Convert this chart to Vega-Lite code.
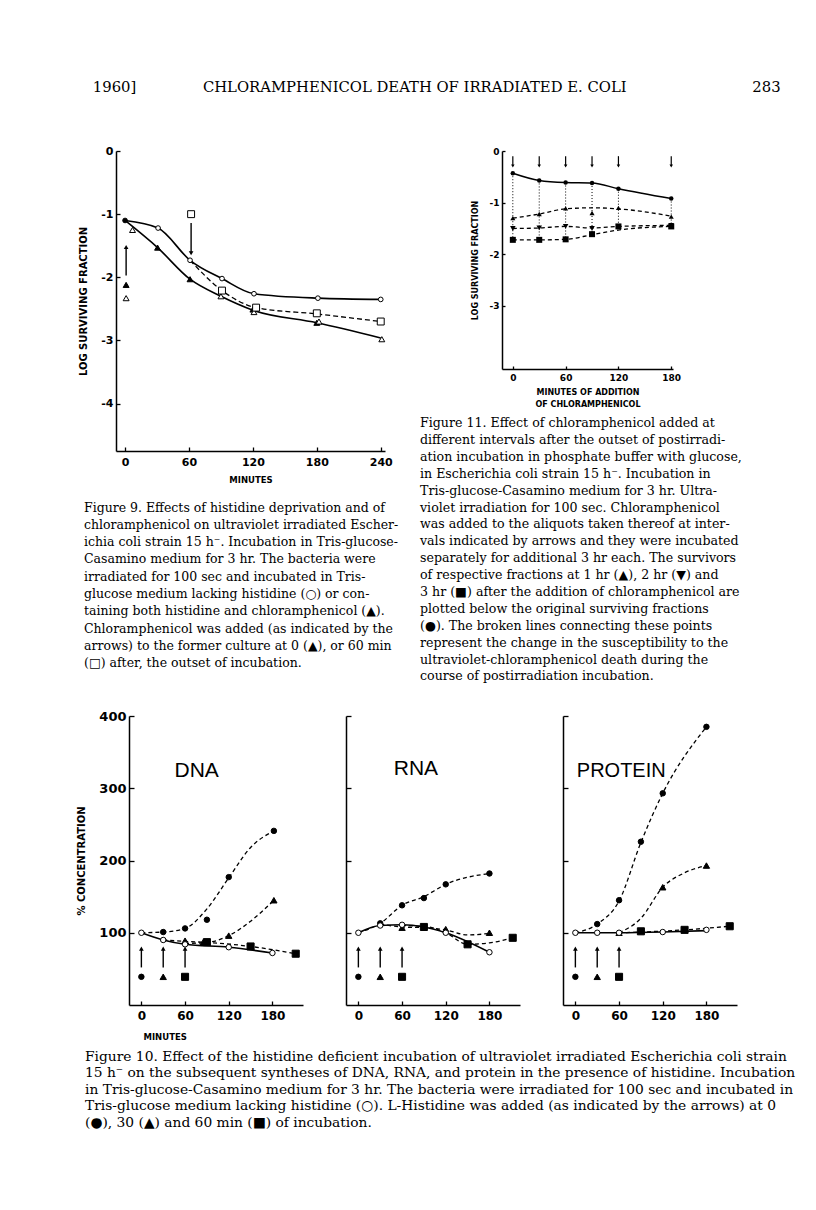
{
"$schema": "https://vega.github.io/schema/vega-lite/v6.json",
"background": "white",
"padding": {"left": 76, "top": 80, "right": 15, "bottom": 15},
"title": {"text": "1960]\u2003\u2003\u2003\u2003\u2002CHLORAMPHENICOL DEATH OF IRRADIATED E. COLI\u2003\u2003\u2003\u2003\u2003\u2003\u2003\u2003\u2002283", "anchor": "start", "font": "DejaVu Serif", "fontSize": 14.8, "fontWeight": "normal", "offset": 50, "dx": 16, "color": "black"},
"config": {
  "view": {"stroke": null},
  "axis": {"grid": false, "domainColor": "black", "domainWidth": 1.5, "tickColor": "black", "tickWidth": 1.3, "labelColor": "black", "titleColor": "black", "labelFont": "DejaVu Sans", "titleFont": "DejaVu Sans", "labelFontWeight": "bold", "titleFontWeight": "bold", "labelFlush": false, "labelOverlap": false},
  "title": {"color": "black"}
},
"datasets": {
  "f9_line": [
    {"s":"c","t":0,"v":-1.1},{"s":"c","t":31,"v":-1.22},{"s":"c","t":61,"v":-1.73},{"s":"c","t":91,"v":-2.02},{"s":"c","t":121,"v":-2.26},{"s":"c","t":181,"v":-2.33},{"s":"c","t":240,"v":-2.35},
    {"s":"t","t":0,"v":-1.1},{"s":"t","t":30.5,"v":-1.53},{"s":"t","t":61,"v":-2.03},{"s":"t","t":90,"v":-2.3},{"s":"t","t":120,"v":-2.52},{"s":"t","t":180,"v":-2.72},{"s":"t","t":240,"v":-2.96},
    {"s":"q","t":61,"v":-1.73},{"s":"q","t":91,"v":-2.21},{"s":"q","t":123,"v":-2.48},{"s":"q","t":180,"v":-2.58},{"s":"q","t":240,"v":-2.7}
  ],
  "f9_pt": [
    {"m":"circle","k":"filled","t":0,"v":-1.1},
    {"m":"triangle-up","k":"filled","t":30.5,"v":-1.53},{"m":"triangle-up","k":"filled","t":61,"v":-2.03},{"m":"triangle-up","k":"filled","t":120,"v":-2.51},{"m":"triangle-up","k":"filled","t":180,"v":-2.72},{"m":"triangle-up","k":"filled","t":1,"v":-2.12},
    {"m":"triangle-up","k":"open","t":7,"v":-1.25},{"m":"triangle-up","k":"open","t":90,"v":-2.3},{"m":"triangle-up","k":"open","t":121,"v":-2.55},{"m":"triangle-up","k":"open","t":182,"v":-2.7},{"m":"triangle-up","k":"open","t":241,"v":-2.98},{"m":"triangle-up","k":"open","t":1,"v":-2.33},
    {"m":"square","k":"open","t":62,"v":-1.0},{"m":"square","k":"open","t":91,"v":-2.21},{"m":"square","k":"open","t":123,"v":-2.48},{"m":"square","k":"open","t":180,"v":-2.57},{"m":"square","k":"open","t":240,"v":-2.7},
    {"m":"circle","k":"open","t":31,"v":-1.22},{"m":"circle","k":"open","t":61,"v":-1.73},{"m":"circle","k":"open","t":91,"v":-2.02},{"m":"circle","k":"open","t":121,"v":-2.26},{"m":"circle","k":"open","t":181,"v":-2.33},{"m":"circle","k":"open","t":240,"v":-2.35}
  ],
  "f9_arrow": [
    {"t":1,"v":-1.52,"v2":-1.97,"dir":"up"},
    {"t":62,"v":-1.62,"v2":-1.14,"dir":"down"}
  ],
  "f11_line": [
    {"s":"c","t":0,"v":-0.43},{"s":"c","t":30,"v":-0.57},{"s":"c","t":60,"v":-0.61},{"s":"c","t":90,"v":-0.62},{"s":"c","t":120,"v":-0.73},{"s":"c","t":180,"v":-0.92},
    {"s":"u","t":0,"v":-1.3},{"s":"u","t":30,"v":-1.22},{"s":"u","t":60,"v":-1.12},{"s":"u","t":90,"v":-1.1},{"s":"u","t":120,"v":-1.12},{"s":"u","t":180,"v":-1.26},
    {"s":"d","t":0,"v":-1.5},{"s":"d","t":30,"v":-1.49},{"s":"d","t":60,"v":-1.46},{"s":"d","t":90,"v":-1.49},{"s":"d","t":120,"v":-1.46},{"s":"d","t":180,"v":-1.44},
    {"s":"q","t":0,"v":-1.72},{"s":"q","t":30,"v":-1.72},{"s":"q","t":60,"v":-1.71},{"s":"q","t":90,"v":-1.62},{"s":"q","t":120,"v":-1.53},{"s":"q","t":180,"v":-1.46}
  ],
  "f11_pt": [
    {"m":"circle","t":0,"v":-0.43},{"m":"circle","t":30,"v":-0.57},{"m":"circle","t":60,"v":-0.61},{"m":"circle","t":90,"v":-0.62},{"m":"circle","t":120,"v":-0.73},{"m":"circle","t":180,"v":-0.92},
    {"m":"triangle-up","t":0,"v":-1.3},{"m":"triangle-up","t":30,"v":-1.22},{"m":"triangle-up","t":60,"v":-1.11},{"m":"triangle-up","t":90,"v":-1.2},{"m":"triangle-up","t":120,"v":-1.1},{"m":"triangle-up","t":180,"v":-1.27},
    {"m":"triangle-down","t":0,"v":-1.5},{"m":"triangle-down","t":30,"v":-1.49},{"m":"triangle-down","t":60,"v":-1.46},{"m":"triangle-down","t":90,"v":-1.5},{"m":"triangle-down","t":120,"v":-1.46},{"m":"triangle-down","t":180,"v":-1.44},
    {"m":"square","t":0,"v":-1.72},{"m":"square","t":30,"v":-1.72},{"m":"square","t":60,"v":-1.71},{"m":"square","t":90,"v":-1.61},{"m":"square","t":120,"v":-1.46},{"m":"square","t":180,"v":-1.46}
  ],
  "f11_drop": [
    {"t":0,"v":-0.43,"v2":-1.72},{"t":30,"v":-0.57,"v2":-1.72},{"t":60,"v":-0.61,"v2":-1.71},{"t":90,"v":-0.62,"v2":-1.61},{"t":120,"v":-0.73,"v2":-1.46},{"t":180,"v":-0.92,"v2":-1.46}
  ],
  "f11_arrow": [
    {"t":0,"v":-0.29,"v2":-0.1},{"t":30,"v":-0.29,"v2":-0.1},{"t":60,"v":-0.29,"v2":-0.1},{"t":90,"v":-0.29,"v2":-0.1},{"t":120,"v":-0.29,"v2":-0.1},{"t":180,"v":-0.29,"v2":-0.1}
  ],
  "f10_line": [
    {"p":"DNA","s":"o","t":0,"v":100},{"p":"DNA","s":"o","t":30,"v":90},{"p":"DNA","s":"o","t":60,"v":84},{"p":"DNA","s":"o","t":120,"v":80},{"p":"DNA","s":"o","t":180,"v":72},
    {"p":"DNA","s":"fc","t":0,"v":100},{"p":"DNA","s":"fc","t":30,"v":101},{"p":"DNA","s":"fc","t":60,"v":106},{"p":"DNA","s":"fc","t":90,"v":133},{"p":"DNA","s":"fc","t":120,"v":176},{"p":"DNA","s":"fc","t":150,"v":218},{"p":"DNA","s":"fc","t":182,"v":241},
    {"p":"DNA","s":"tr","t":30,"v":90},{"p":"DNA","s":"tr","t":60,"v":88},{"p":"DNA","s":"tr","t":90,"v":87},{"p":"DNA","s":"tr","t":120,"v":96},{"p":"DNA","s":"tr","t":150,"v":116},{"p":"DNA","s":"tr","t":182,"v":145},
    {"p":"DNA","s":"sq","t":60,"v":85},{"p":"DNA","s":"sq","t":90,"v":86},{"p":"DNA","s":"sq","t":150,"v":81},{"p":"DNA","s":"sq","t":212,"v":71},
    {"p":"RNA","s":"o","t":0,"v":100},{"p":"RNA","s":"o","t":30,"v":110},{"p":"RNA","s":"o","t":60,"v":111},{"p":"RNA","s":"o","t":90,"v":108},{"p":"RNA","s":"o","t":120,"v":100},{"p":"RNA","s":"o","t":180,"v":73},
    {"p":"RNA","s":"fc","t":0,"v":100},{"p":"RNA","s":"fc","t":30,"v":113},{"p":"RNA","s":"fc","t":60,"v":138},{"p":"RNA","s":"fc","t":90,"v":150},{"p":"RNA","s":"fc","t":120,"v":167},{"p":"RNA","s":"fc","t":180,"v":182},
    {"p":"RNA","s":"tr","t":30,"v":112},{"p":"RNA","s":"tr","t":60,"v":108},{"p":"RNA","s":"tr","t":90,"v":107},{"p":"RNA","s":"tr","t":120,"v":104},{"p":"RNA","s":"tr","t":150,"v":97},{"p":"RNA","s":"tr","t":180,"v":99},
    {"p":"RNA","s":"sq","t":60,"v":110},{"p":"RNA","s":"sq","t":90,"v":109},{"p":"RNA","s":"sq","t":120,"v":100},{"p":"RNA","s":"sq","t":150,"v":84},{"p":"RNA","s":"sq","t":180,"v":86},{"p":"RNA","s":"sq","t":212,"v":93},
    {"p":"PROT","s":"o","t":0,"v":100},{"p":"PROT","s":"o","t":30,"v":100},{"p":"PROT","s":"o","t":60,"v":100},{"p":"PROT","s":"o","t":120,"v":101},{"p":"PROT","s":"o","t":180,"v":103},
    {"p":"PROT","s":"fc","t":0,"v":100},{"p":"PROT","s":"fc","t":30,"v":112},{"p":"PROT","s":"fc","t":60,"v":144},{"p":"PROT","s":"fc","t":90,"v":225},{"p":"PROT","s":"fc","t":120,"v":293},{"p":"PROT","s":"fc","t":180,"v":385},
    {"p":"PROT","s":"tr","t":60,"v":100},{"p":"PROT","s":"tr","t":90,"v":120},{"p":"PROT","s":"tr","t":120,"v":163},{"p":"PROT","s":"tr","t":150,"v":183},{"p":"PROT","s":"tr","t":180,"v":193},
    {"p":"PROT","s":"sq","t":60,"v":100},{"p":"PROT","s":"sq","t":90,"v":101},{"p":"PROT","s":"sq","t":150,"v":104},{"p":"PROT","s":"sq","t":212,"v":109}
  ],
  "f10_pt": [
    {"p":"DNA","m":"circle","k":"filled","t":30,"v":101},{"p":"DNA","m":"circle","k":"filled","t":60,"v":106},{"p":"DNA","m":"circle","k":"filled","t":90,"v":118},{"p":"DNA","m":"circle","k":"filled","t":120,"v":177},{"p":"DNA","m":"circle","k":"filled","t":182,"v":241},
    {"p":"DNA","m":"triangle-up","k":"filled","t":60,"v":89},{"p":"DNA","m":"triangle-up","k":"filled","t":85,"v":87},{"p":"DNA","m":"triangle-up","k":"filled","t":120,"v":96},{"p":"DNA","m":"triangle-up","k":"filled","t":182,"v":145},
    {"p":"DNA","m":"square","k":"filled","t":90,"v":87},{"p":"DNA","m":"square","k":"filled","t":150,"v":81},{"p":"DNA","m":"square","k":"filled","t":212,"v":71},
    {"p":"DNA","m":"circle","k":"filled","t":0,"v":39},{"p":"DNA","m":"triangle-up","k":"filled","t":30,"v":39},{"p":"DNA","m":"square","k":"filled","t":60,"v":39},
    {"p":"DNA","m":"circle","k":"open","t":0,"v":100},{"p":"DNA","m":"circle","k":"open","t":30,"v":90},{"p":"DNA","m":"circle","k":"open","t":60,"v":84},{"p":"DNA","m":"circle","k":"open","t":120,"v":80},{"p":"DNA","m":"circle","k":"open","t":180,"v":72},
    {"p":"RNA","m":"circle","k":"filled","t":30,"v":113},{"p":"RNA","m":"circle","k":"filled","t":60,"v":138},{"p":"RNA","m":"circle","k":"filled","t":90,"v":148},{"p":"RNA","m":"circle","k":"filled","t":120,"v":167},{"p":"RNA","m":"circle","k":"filled","t":180,"v":182},
    {"p":"RNA","m":"triangle-up","k":"filled","t":60,"v":107},{"p":"RNA","m":"triangle-up","k":"filled","t":120,"v":105},{"p":"RNA","m":"triangle-up","k":"filled","t":180,"v":100},
    {"p":"RNA","m":"square","k":"filled","t":90,"v":108},{"p":"RNA","m":"square","k":"filled","t":150,"v":84},{"p":"RNA","m":"square","k":"filled","t":212,"v":93},
    {"p":"RNA","m":"circle","k":"filled","t":0,"v":39},{"p":"RNA","m":"triangle-up","k":"filled","t":30,"v":39},{"p":"RNA","m":"square","k":"filled","t":60,"v":39},
    {"p":"RNA","m":"circle","k":"open","t":0,"v":100},{"p":"RNA","m":"circle","k":"open","t":30,"v":110},{"p":"RNA","m":"circle","k":"open","t":60,"v":111},{"p":"RNA","m":"circle","k":"open","t":120,"v":100},{"p":"RNA","m":"circle","k":"open","t":180,"v":73},
    {"p":"PROT","m":"circle","k":"filled","t":30,"v":112},{"p":"PROT","m":"circle","k":"filled","t":60,"v":145},{"p":"PROT","m":"circle","k":"filled","t":90,"v":226},{"p":"PROT","m":"circle","k":"filled","t":120,"v":293},{"p":"PROT","m":"circle","k":"filled","t":180,"v":385},
    {"p":"PROT","m":"triangle-up","k":"filled","t":120,"v":163},{"p":"PROT","m":"triangle-up","k":"filled","t":180,"v":193},
    {"p":"PROT","m":"square","k":"filled","t":90,"v":102},{"p":"PROT","m":"square","k":"filled","t":150,"v":104},{"p":"PROT","m":"square","k":"filled","t":212,"v":109},
    {"p":"PROT","m":"circle","k":"filled","t":0,"v":39},{"p":"PROT","m":"triangle-up","k":"filled","t":30,"v":39},{"p":"PROT","m":"square","k":"filled","t":60,"v":39},
    {"p":"PROT","m":"triangle-up","k":"open","t":60,"v":100},
    {"p":"PROT","m":"circle","k":"open","t":0,"v":100},{"p":"PROT","m":"circle","k":"open","t":30,"v":100},{"p":"PROT","m":"circle","k":"open","t":60,"v":100},{"p":"PROT","m":"circle","k":"open","t":120,"v":101},{"p":"PROT","m":"circle","k":"open","t":180,"v":104}
  ],
  "f10_arrow": [
    {"p":"DNA","t":0,"v":78,"v2":52},{"p":"DNA","t":30,"v":78,"v2":52},{"p":"DNA","t":60,"v":78,"v2":52},
    {"p":"RNA","t":0,"v":78,"v2":52},{"p":"RNA","t":30,"v":78,"v2":52},{"p":"RNA","t":60,"v":78,"v2":52},
    {"p":"PROT","t":0,"v":78,"v2":52},{"p":"PROT","t":30,"v":78,"v2":52},{"p":"PROT","t":60,"v":78,"v2":52}
  ],
  "f10_label": [
    {"p":"DNA","t":76,"v":324,"label":"DNA"},
    {"p":"RNA","t":79,"v":326,"label":"RNA"},
    {"p":"PROT","t":63,"v":324,"label":"PROTEIN"}
  ]
},
"bounds": "flush",
"spacing": 565,
"resolve": {"scale": {"shape": "independent", "size": "independent", "fill": "independent"}},
"vconcat": [
  {
    "bounds": "flush",
    "spacing": 117,
    "resolve": {"scale": {"shape": "independent", "size": "independent", "fill": "independent"}},
    "hconcat": [
      {
        "width": 269, "height": 300,
        "title": {"text": [
          "\u2003\u2002Figure 9. Effects of histidine deprivation and of",
          "chloramphenicol on ultraviolet irradiated Escher-",
          "ichia coli strain 15 h\u207b. Incubation in Tris-glucose-",
          "Casamino medium for 3 hr. The bacteria were",
          "irradiated for 100 sec and incubated in Tris-",
          "glucose medium lacking histidine (\u25cb) or con-",
          "taining both histidine and chloramphenicol (\u25b2).",
          "Chloramphenicol was added (as indicated by the",
          "arrows) to the former culture at 0 (\u25b2), or 60 min",
          "(\u25a1) after, the outset of incubation."],
          "orient": "bottom", "anchor": "start", "frame": "group", "dx": -32, "offset": 18,
          "font": "DejaVu Serif", "fontSize": 12.5, "fontWeight": "normal", "lineHeight": 17.3, "color": "black"},
        "encoding": {
          "x": {"field": "t", "type": "quantitative", "scale": {"domain": [-8.5, 244], "nice": false, "zero": false},
                "axis": {"values": [0, 60, 120, 180, 240], "title": "MINUTES", "labelFontSize": 11, "titleFontSize": 8.5, "tickSize": -4, "labelPadding": 9, "titlePadding": 8}},
          "y": {"field": "v", "type": "quantitative", "scale": {"domain": [-4.75, 0], "nice": false, "zero": false},
                "axis": {"values": [0, -1, -2, -3, -4], "labelExpr": "datum.value == 0 ? '0' : '-' + abs(datum.value)", "title": "LOG SURVIVING FRACTION", "labelFontSize": 11, "titleFontSize": 10, "tickSize": -4, "labelPadding": 7, "titlePadding": 12}}
        },
        "layer": [
          {"data": {"name": "f9_line"}, "transform": [{"filter": "datum.s != 'q'"}],
           "mark": {"type": "line", "interpolate": "monotone", "color": "black", "strokeWidth": 1.6},
           "encoding": {"detail": {"field": "s", "type": "nominal"}}},
          {"data": {"name": "f9_line"}, "transform": [{"filter": "datum.s == 'q'"}],
           "mark": {"type": "line", "interpolate": "monotone", "color": "black", "strokeWidth": 1.3, "strokeDash": [5, 3]},
           "encoding": {"detail": {"field": "s", "type": "nominal"}}},
          {"data": {"name": "f9_arrow"}, "mark": {"type": "rule", "color": "black", "strokeWidth": 1.4},
           "encoding": {"y2": {"field": "v2"}}},
          {"data": {"name": "f9_arrow"}, "transform": [{"filter": "datum.dir == 'up'"}],
           "mark": {"type": "point", "shape": "triangle-up", "filled": true, "color": "black", "size": 22, "opacity": 1}, "encoding": {}},
          {"data": {"name": "f9_arrow"}, "transform": [{"filter": "datum.dir == 'down'"}],
           "mark": {"type": "point", "shape": "triangle-down", "filled": true, "color": "black", "size": 22, "opacity": 1}, "encoding": {}},
          {"data": {"name": "f9_pt"},
           "mark": {"type": "point", "filled": true, "stroke": "black", "strokeWidth": 1, "opacity": 1},
           "encoding": {
             "shape": {"field": "m", "type": "nominal", "scale": {"domain": ["circle", "triangle-up", "square"], "range": ["circle", "triangle-up", "square"]}, "legend": null},
             "size": {"field": "m", "type": "nominal", "scale": {"domain": ["circle", "triangle-up", "square"], "range": [22, 48, 42]}, "legend": null},
             "fill": {"field": "k", "type": "nominal", "scale": {"domain": ["open", "filled"], "range": ["white", "black"]}, "legend": null}
           }}
        ]
      },
      {
        "width": 171, "height": 218,
        "title": {"text": [
          "\u2003Figure 11. Effect of chloramphenicol added at",
          "different intervals after the outset of postirradi-",
          "ation incubation in phosphate buffer with glucose,",
          "in Escherichia coli strain 15 h\u207b. Incubation in",
          "Tris-glucose-Casamino medium for 3 hr. Ultra-",
          "violet irradiation for 100 sec. Chloramphenicol",
          "was added to the aliquots taken thereof at inter-",
          "vals indicated by arrows and they were incubated",
          "separately for additional 3 hr each. The survivors",
          "of respective fractions at 1 hr (\u25b2), 2 hr (\u25bc) and",
          "3 hr (\u25a0) after the addition of chloramphenicol are",
          "plotted below the original surviving fractions",
          "(\u25cf). The broken lines connecting these points",
          "represent the change in the susceptibility to the",
          "ultraviolet-chloramphenicol death during the",
          "course of postirradiation incubation."],
          "orient": "bottom", "anchor": "start", "frame": "group", "dx": -82, "offset": 9,
          "font": "DejaVu Serif", "fontSize": 12.6, "fontWeight": "normal", "lineHeight": 16.9, "color": "black"},
        "encoding": {
          "x": {"field": "t", "type": "quantitative", "scale": {"domain": [-12.3, 182], "nice": false, "zero": false},
                "axis": {"values": [0, 60, 120, 180], "title": ["MINUTES OF ADDITION", "OF CHLORAMPHENICOL"], "labelFontSize": 9, "titleFontSize": 8, "tickSize": -3, "labelPadding": 7, "titlePadding": 6, "titleLineHeight": 12}},
          "y": {"field": "v", "type": "quantitative", "scale": {"domain": [-4.22, 0], "nice": false, "zero": false},
                "axis": {"values": [0, -1, -2, -3], "labelExpr": "datum.value == 0 ? '0' : '-' + abs(datum.value)", "title": "LOG SURVIVING FRACTION", "labelFontSize": 9, "titleFontSize": 8, "tickSize": -3, "labelPadding": 6, "titlePadding": 10}}
        },
        "layer": [
          {"data": {"name": "f11_drop"}, "mark": {"type": "rule", "color": "black", "strokeWidth": 1, "strokeDash": [1, 2]},
           "encoding": {"y2": {"field": "v2"}}},
          {"data": {"name": "f11_line"}, "transform": [{"filter": "datum.s == 'c'"}],
           "mark": {"type": "line", "interpolate": "monotone", "color": "black", "strokeWidth": 1.5},
           "encoding": {"detail": {"field": "s", "type": "nominal"}}},
          {"data": {"name": "f11_line"}, "transform": [{"filter": "datum.s != 'c'"}],
           "mark": {"type": "line", "interpolate": "monotone", "color": "black", "strokeWidth": 1.3, "strokeDash": [4, 3]},
           "encoding": {"detail": {"field": "s", "type": "nominal"}}},
          {"data": {"name": "f11_arrow"}, "mark": {"type": "rule", "color": "black", "strokeWidth": 1.2},
           "encoding": {"y2": {"field": "v2"}}},
          {"data": {"name": "f11_arrow"},
           "mark": {"type": "point", "shape": "triangle-down", "filled": true, "color": "black", "size": 12, "opacity": 1}, "encoding": {}},
          {"data": {"name": "f11_pt"},
           "mark": {"type": "point", "filled": true, "color": "black", "opacity": 1},
           "encoding": {
             "shape": {"field": "m", "type": "nominal", "scale": {"domain": ["circle", "triangle-up", "triangle-down", "square"], "range": ["circle", "triangle-up", "triangle-down", "square"]}, "legend": null},
             "size": {"field": "m", "type": "nominal", "scale": {"domain": ["circle", "triangle-up", "triangle-down", "square"], "range": [20, 36, 36, 28]}, "legend": null}
           }}
        ]
      }
    ]
  },
  {
    "bounds": "flush",
    "spacing": 12,
    "resolve": {"scale": {"shape": "independent", "size": "independent", "fill": "independent"}},
    "hconcat": [
      {"width": 1, "height": 1, "data": {"values": [{"t": 0}]}, "mark": {"type": "point", "opacity": 0}, "encoding": {}},
      {
        "bounds": "flush",
        "spacing": 43,
        "hconcat": [
          {
            "width": 174, "height": 289,
            "title": {"text": [
              "\u2003Figure 10. Effect of the histidine deficient incubation of ultraviolet irradiated Escherichia coli strain",
              "15 h\u207b on the subsequent syntheses of DNA, RNA, and protein in the presence of histidine. Incubation",
              "in Tris-glucose-Casamino medium for 3 hr. The bacteria were irradiated for 100 sec and incubated in",
              "Tris-glucose medium lacking histidine (\u25cb). L-Histidine was added (as indicated by the arrows) at 0",
              "(\u25cf), 30 (\u25b2) and 60 min (\u25a0) of incubation."],
              "orient": "bottom", "anchor": "start", "frame": "group", "dx": -44, "offset": 9,
              "font": "DejaVu Serif", "fontSize": 13.8, "fontWeight": "normal", "lineHeight": 16.6, "color": "black"},
            "encoding": {
              "x": {"field": "t", "type": "quantitative", "scale": {"domain": [-17, 222], "nice": false, "zero": false},
                    "axis": {"values": [0, 60, 120, 180], "title": "MINUTES", "labelFontSize": 12, "titleFontSize": 8.5, "tickSize": -4, "labelPadding": 9, "titlePadding": 11, "titleAnchor": "start", "titleAlign": "left", "titleX": 14}},
              "y": {"field": "v", "type": "quantitative", "scale": {"domain": [0, 400], "nice": false, "zero": false},
                    "axis": {"values": [100, 200, 300, 400], "title": "% CONCENTRATION", "labelFontSize": 13, "titleFontSize": 10, "tickSize": -5, "labelPadding": 8, "titlePadding": 12}}
            },
            "layer": [
              {"data": {"name": "f10_line"}, "transform": [{"filter": "datum.p == 'DNA' && datum.s == 'o'"}],
               "mark": {"type": "line", "interpolate": "monotone", "color": "black", "strokeWidth": 1.6}, "encoding": {}},
              {"data": {"name": "f10_line"}, "transform": [{"filter": "datum.p == 'DNA' && datum.s != 'o'"}],
               "mark": {"type": "line", "interpolate": "monotone", "color": "black", "strokeWidth": 1.3, "strokeDash": [4, 3]},
               "encoding": {"detail": {"field": "s", "type": "nominal"}}},
              {"data": {"name": "f10_arrow"}, "transform": [{"filter": "datum.p == 'DNA'"}],
               "mark": {"type": "rule", "color": "black", "strokeWidth": 1.4}, "encoding": {"y2": {"field": "v2"}}},
              {"data": {"name": "f10_arrow"}, "transform": [{"filter": "datum.p == 'DNA'"}],
               "mark": {"type": "point", "shape": "triangle-up", "filled": true, "color": "black", "size": 22, "opacity": 1}, "encoding": {}},
              {"data": {"name": "f10_pt"}, "transform": [{"filter": "datum.p == 'DNA'"}],
               "mark": {"type": "point", "filled": true, "stroke": "black", "strokeWidth": 1, "opacity": 1},
               "encoding": {
                 "shape": {"field": "m", "type": "nominal", "scale": {"domain": ["circle", "triangle-up", "square"], "range": ["circle", "triangle-up", "square"]}, "legend": null},
                 "size": {"field": "m", "type": "nominal", "scale": {"domain": ["circle", "triangle-up", "square"], "range": [30, 50, 40]}, "legend": null},
                 "fill": {"field": "k", "type": "nominal", "scale": {"domain": ["open", "filled"], "range": ["white", "black"]}, "legend": null}
               }},
              {"data": {"name": "f10_label"}, "transform": [{"filter": "datum.p == 'DNA'"}],
               "mark": {"type": "text", "font": "Liberation Sans", "fontSize": 21, "color": "black", "baseline": "middle", "align": "center"},
               "encoding": {"text": {"field": "label", "type": "nominal"}}}
            ]
          },
          {
            "width": 174, "height": 289,
            "encoding": {
              "x": {"field": "t", "type": "quantitative", "scale": {"domain": [-17, 222], "nice": false, "zero": false},
                    "axis": {"values": [0, 60, 120, 180], "title": null, "labelFontSize": 12, "tickSize": -4, "labelPadding": 9}},
              "y": {"field": "v", "type": "quantitative", "scale": {"domain": [0, 400], "nice": false, "zero": false},
                    "axis": {"values": [100, 200, 300, 400], "title": null, "labels": false, "tickSize": -5}}
            },
            "layer": [
              {"data": {"name": "f10_line"}, "transform": [{"filter": "datum.p == 'RNA' && datum.s == 'o'"}],
               "mark": {"type": "line", "interpolate": "monotone", "color": "black", "strokeWidth": 1.6}, "encoding": {}},
              {"data": {"name": "f10_line"}, "transform": [{"filter": "datum.p == 'RNA' && datum.s != 'o'"}],
               "mark": {"type": "line", "interpolate": "monotone", "color": "black", "strokeWidth": 1.3, "strokeDash": [4, 3]},
               "encoding": {"detail": {"field": "s", "type": "nominal"}}},
              {"data": {"name": "f10_arrow"}, "transform": [{"filter": "datum.p == 'RNA'"}],
               "mark": {"type": "rule", "color": "black", "strokeWidth": 1.4}, "encoding": {"y2": {"field": "v2"}}},
              {"data": {"name": "f10_arrow"}, "transform": [{"filter": "datum.p == 'RNA'"}],
               "mark": {"type": "point", "shape": "triangle-up", "filled": true, "color": "black", "size": 22, "opacity": 1}, "encoding": {}},
              {"data": {"name": "f10_pt"}, "transform": [{"filter": "datum.p == 'RNA'"}],
               "mark": {"type": "point", "filled": true, "stroke": "black", "strokeWidth": 1, "opacity": 1},
               "encoding": {
                 "shape": {"field": "m", "type": "nominal", "scale": {"domain": ["circle", "triangle-up", "square"], "range": ["circle", "triangle-up", "square"]}, "legend": null},
                 "size": {"field": "m", "type": "nominal", "scale": {"domain": ["circle", "triangle-up", "square"], "range": [30, 50, 40]}, "legend": null},
                 "fill": {"field": "k", "type": "nominal", "scale": {"domain": ["open", "filled"], "range": ["white", "black"]}, "legend": null}
               }},
              {"data": {"name": "f10_label"}, "transform": [{"filter": "datum.p == 'RNA'"}],
               "mark": {"type": "text", "font": "Liberation Sans", "fontSize": 21, "color": "black", "baseline": "middle", "align": "center"},
               "encoding": {"text": {"field": "label", "type": "nominal"}}}
            ]
          },
          {
            "width": 174, "height": 289,
            "encoding": {
              "x": {"field": "t", "type": "quantitative", "scale": {"domain": [-17, 222], "nice": false, "zero": false},
                    "axis": {"values": [0, 60, 120, 180], "title": null, "labelFontSize": 12, "tickSize": -4, "labelPadding": 9}},
              "y": {"field": "v", "type": "quantitative", "scale": {"domain": [0, 400], "nice": false, "zero": false},
                    "axis": {"values": [100, 200, 300, 400], "title": null, "labels": false, "tickSize": -5}}
            },
            "layer": [
              {"data": {"name": "f10_line"}, "transform": [{"filter": "datum.p == 'PROT' && datum.s == 'o'"}],
               "mark": {"type": "line", "interpolate": "monotone", "color": "black", "strokeWidth": 1.6}, "encoding": {}},
              {"data": {"name": "f10_line"}, "transform": [{"filter": "datum.p == 'PROT' && datum.s != 'o'"}],
               "mark": {"type": "line", "interpolate": "monotone", "color": "black", "strokeWidth": 1.3, "strokeDash": [4, 3]},
               "encoding": {"detail": {"field": "s", "type": "nominal"}}},
              {"data": {"name": "f10_arrow"}, "transform": [{"filter": "datum.p == 'PROT'"}],
               "mark": {"type": "rule", "color": "black", "strokeWidth": 1.4}, "encoding": {"y2": {"field": "v2"}}},
              {"data": {"name": "f10_arrow"}, "transform": [{"filter": "datum.p == 'PROT'"}],
               "mark": {"type": "point", "shape": "triangle-up", "filled": true, "color": "black", "size": 22, "opacity": 1}, "encoding": {}},
              {"data": {"name": "f10_pt"}, "transform": [{"filter": "datum.p == 'PROT'"}],
               "mark": {"type": "point", "filled": true, "stroke": "black", "strokeWidth": 1, "opacity": 1},
               "encoding": {
                 "shape": {"field": "m", "type": "nominal", "scale": {"domain": ["circle", "triangle-up", "square"], "range": ["circle", "triangle-up", "square"]}, "legend": null},
                 "size": {"field": "m", "type": "nominal", "scale": {"domain": ["circle", "triangle-up", "square"], "range": [30, 50, 40]}, "legend": null},
                 "fill": {"field": "k", "type": "nominal", "scale": {"domain": ["open", "filled"], "range": ["white", "black"]}, "legend": null}
               }},
              {"data": {"name": "f10_label"}, "transform": [{"filter": "datum.p == 'PROT'"}],
               "mark": {"type": "text", "font": "Liberation Sans", "fontSize": 20, "color": "black", "baseline": "middle", "align": "center"},
               "encoding": {"text": {"field": "label", "type": "nominal"}}}
            ]
          }
        ]
      }
    ]
  }
]
}
